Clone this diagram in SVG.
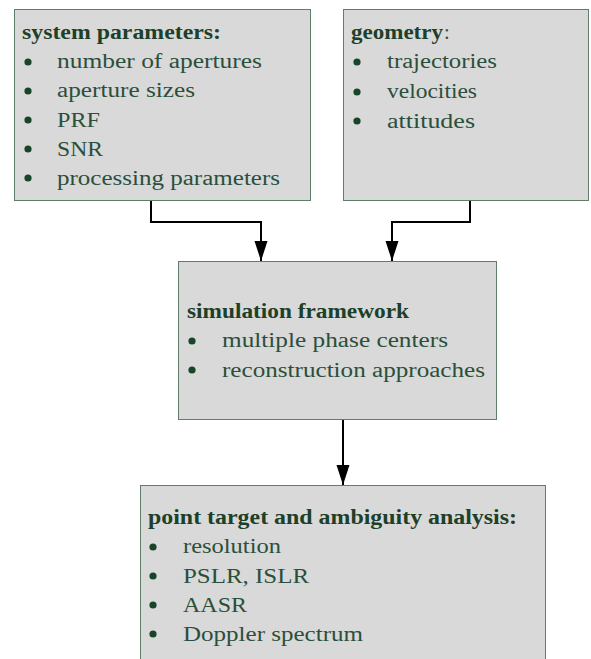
<svg xmlns="http://www.w3.org/2000/svg" width="591" height="659" viewBox="0 0 591 659">
<defs>
<style>
text{font-family:'Liberation Serif','DejaVu Serif','Times New Roman',serif;font-size:20.5px}
.t{fill:#2b4f3b;font-weight:normal}
.h{font-weight:bold;fill:#1d4029}
.box{fill:#d9d9d9;stroke:#5f7d69;stroke-width:1}
.b{fill:#17452a}
.c{fill:none;stroke:#000;stroke-width:2}
</style>
<marker id="ah" markerUnits="userSpaceOnUse" markerWidth="21" markerHeight="14" refX="20" refY="7" orient="auto">
<path d="M0,0.5 L20,7 L0,13.5 z" fill="#000"/>
</marker>
</defs>
<rect width="591" height="659" fill="#fff"/>
<g id="connectors">
<path class="c" d="M151,201 V222 H261 V261" marker-end="url(#ah)"/>
<path class="c" d="M470,201 V222 H392 V261" marker-end="url(#ah)"/>
<path class="c" d="M343,420 V485" marker-end="url(#ah)"/>
</g>
<g id="system-parameters">
<rect class="box" x="14.5" y="9.5" width="296" height="191"/>
<text class="h" x="22" y="39" textLength="199" lengthAdjust="spacingAndGlyphs">system parameters:</text>
<circle class="b" cx="28" cy="62" r="3.6"/>
<text class="t" x="57" y="68" textLength="205" lengthAdjust="spacingAndGlyphs">number of apertures</text>
<circle class="b" cx="28" cy="91" r="3.6"/>
<text class="t" x="57" y="97" textLength="138" lengthAdjust="spacingAndGlyphs">aperture sizes</text>
<circle class="b" cx="28" cy="120" r="3.6"/>
<text class="t" x="57" y="126.5" textLength="43" lengthAdjust="spacingAndGlyphs">PRF</text>
<circle class="b" cx="28" cy="149" r="3.6"/>
<text class="t" x="57" y="156" textLength="46" lengthAdjust="spacingAndGlyphs">SNR</text>
<circle class="b" cx="28" cy="178" r="3.6"/>
<text class="t" x="57" y="185" textLength="223" lengthAdjust="spacingAndGlyphs">processing parameters</text>
</g>
<g id="geometry">
<rect class="box" x="343.5" y="9.5" width="245" height="191"/>
<text class="h" x="351" y="39" textLength="92" lengthAdjust="spacingAndGlyphs">geometry</text>
<text class="t" x="444" y="39">:</text>
<circle class="b" cx="357" cy="62" r="3.6"/>
<text class="t" x="387" y="68" textLength="110" lengthAdjust="spacingAndGlyphs">trajectories</text>
<circle class="b" cx="357" cy="92" r="3.6"/>
<text class="t" x="387" y="98" textLength="90" lengthAdjust="spacingAndGlyphs">velocities</text>
<circle class="b" cx="357" cy="121" r="3.6"/>
<text class="t" x="387" y="127.5" textLength="88" lengthAdjust="spacingAndGlyphs">attitudes</text>
</g>
<g id="simulation-framework">
<rect class="box" x="178.5" y="261.5" width="318" height="158"/>
<text class="h" x="187" y="318" textLength="222" lengthAdjust="spacingAndGlyphs">simulation framework</text>
<circle class="b" cx="192" cy="341" r="3.6"/>
<text class="t" x="222" y="347" textLength="226" lengthAdjust="spacingAndGlyphs">multiple phase centers</text>
<circle class="b" cx="192" cy="370" r="3.6"/>
<text class="t" x="222" y="376.5" textLength="263" lengthAdjust="spacingAndGlyphs">reconstruction approaches</text>
</g>
<g id="point-target-analysis">
<rect class="box" x="140.5" y="485.5" width="405" height="180"/>
<text class="h" x="148" y="523.5" textLength="369" lengthAdjust="spacingAndGlyphs">point target and ambiguity analysis:</text>
<circle class="b" cx="153" cy="547" r="3.6"/>
<text class="t" x="183" y="553" textLength="98" lengthAdjust="spacingAndGlyphs">resolution</text>
<circle class="b" cx="153" cy="576" r="3.6"/>
<text class="t" x="183" y="582.5" textLength="126" lengthAdjust="spacingAndGlyphs">PSLR, ISLR</text>
<circle class="b" cx="153" cy="605" r="3.6"/>
<text class="t" x="183" y="611.5" textLength="64" lengthAdjust="spacingAndGlyphs">AASR</text>
<circle class="b" cx="153" cy="634" r="3.6"/>
<text class="t" x="183" y="640.5" textLength="180" lengthAdjust="spacingAndGlyphs">Doppler spectrum</text>
</g>
</svg>
